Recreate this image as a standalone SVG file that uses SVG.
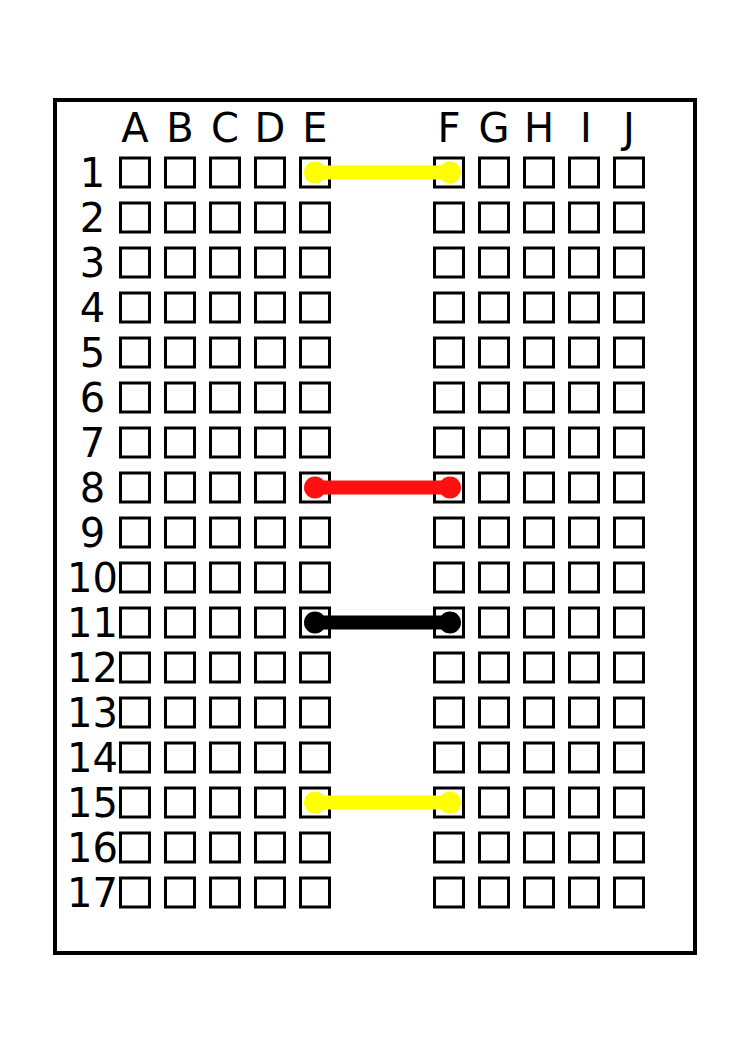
<svg xmlns="http://www.w3.org/2000/svg" width="750" height="1050" viewBox="0 0 750 1050">
<defs>
<style>
.board{fill:#fff;stroke:#000;stroke-width:4}
.hole{fill:#fff;stroke:#000;stroke-width:3}
.lbl{font-family:"DejaVu Sans",Verdana,sans-serif;font-size:40px;fill:#000;text-anchor:middle}
.wire{stroke-width:14;fill:none}
</style>
<rect id="h" x="-14.5" y="-14.5" width="29" height="29" class="hole"/>
<g id="row">
<use href="#h" x="135"/><use href="#h" x="180"/><use href="#h" x="225"/><use href="#h" x="270"/><use href="#h" x="315"/>
<use href="#h" x="449"/><use href="#h" x="494"/><use href="#h" x="539"/><use href="#h" x="584"/><use href="#h" x="629"/>
</g>
</defs>
<rect width="750" height="1050" fill="#fff"/>
<rect id="board" x="55" y="100" width="640" height="853" class="board"/>
<g id="columns" class="lbl">
<text x="135" y="142">A</text><text x="180" y="142">B</text><text x="225" y="142">C</text><text x="270" y="142">D</text><text x="315" y="142">E</text>
<text x="449" y="142">F</text><text x="494" y="142">G</text><text x="539" y="142">H</text><text x="586" y="142">I</text><text x="629" y="142">J</text>
</g>
<g id="rows" class="lbl">
<text x="92.5" y="187">1</text>
<text x="92.5" y="232">2</text>
<text x="92.5" y="277">3</text>
<text x="92.5" y="322">4</text>
<text x="92.5" y="367">5</text>
<text x="92.5" y="412">6</text>
<text x="92.5" y="457">7</text>
<text x="92.5" y="502">8</text>
<text x="92.5" y="547">9</text>
<text x="92.5" y="592">10</text>
<text x="92.5" y="637">11</text>
<text x="92.5" y="682">12</text>
<text x="92.5" y="727">13</text>
<text x="92.5" y="772">14</text>
<text x="92.5" y="817">15</text>
<text x="92.5" y="862">16</text>
<text x="92.5" y="907">17</text>
</g>
<g id="holes">
<use href="#row" y="172.5"/><use href="#row" y="217.5"/><use href="#row" y="262.5"/><use href="#row" y="307.5"/>
<use href="#row" y="352.5"/><use href="#row" y="397.5"/><use href="#row" y="442.5"/><use href="#row" y="487.5"/>
<use href="#row" y="532.5"/><use href="#row" y="577.5"/><use href="#row" y="622.5"/><use href="#row" y="667.5"/>
<use href="#row" y="712.5"/><use href="#row" y="757.5"/><use href="#row" y="802.5"/><use href="#row" y="847.5"/>
<use href="#row" y="892.5"/>
</g>
<g id="wires">
<g id="wire1" fill="#ffff00" stroke="#ffff00">
<line x1="315" y1="172.5" x2="450" y2="172.5" class="wire"/>
<circle cx="315" cy="172.5" r="11" stroke="none"/><circle cx="450" cy="172.5" r="11" stroke="none"/>
</g>
<g id="wire8" fill="#ff1111" stroke="#ff1111">
<line x1="315" y1="487.5" x2="450" y2="487.5" class="wire"/>
<circle cx="315" cy="487.5" r="11" stroke="none"/><circle cx="450" cy="487.5" r="11" stroke="none"/>
</g>
<g id="wire11" fill="#000" stroke="#000">
<line x1="315" y1="622.5" x2="450" y2="622.5" class="wire"/>
<circle cx="315" cy="622.5" r="11" stroke="none"/><circle cx="450" cy="622.5" r="11" stroke="none"/>
</g>
<g id="wire15" fill="#ffff00" stroke="#ffff00">
<line x1="315" y1="802.5" x2="450" y2="802.5" class="wire"/>
<circle cx="315" cy="802.5" r="11" stroke="none"/><circle cx="450" cy="802.5" r="11" stroke="none"/>
</g>
</g>
</svg>
